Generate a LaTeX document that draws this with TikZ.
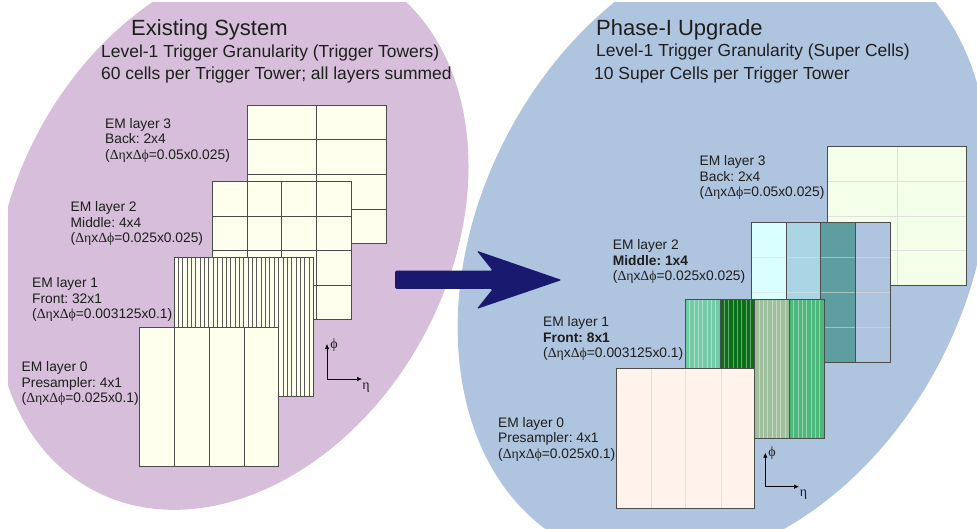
\documentclass[tikz,border=0pt]{standalone}
\usepackage{fontspec}
\setmainfont{Liberation Sans}
\newfontfamily\greekfont{Liberation Serif}
\usetikzlibrary{arrows.meta}
\definecolor{purplelobe}{HTML}{D7BEDA}
\definecolor{bluelobe}{HTML}{AFC4DF}
\definecolor{creamcell}{HTML}{FFFFEE}
\definecolor{palegreen}{HTML}{F4FFEA}
\definecolor{peachcell}{HTML}{FFF3EB}
\definecolor{navyarrow}{HTML}{191970}
\definecolor{textdark}{HTML}{1E1E1E}
\newcommand{\dede}{{\greekfont Δη}x{\greekfont Δϕ}}
\frenchspacing
\tikzset{
  titlelabel/.style={anchor=west,text=textdark,inner sep=0pt,font=\fontsize{22}{26}\selectfont},
  sublabel/.style={anchor=west,text=textdark,inner sep=0pt,font=\fontsize{17.45}{20}\selectfont},
  layerlabel/.style={anchor=west,align=left,text=textdark,inner sep=0pt,font=\fontsize{13.8}{15.5}\selectfont},
  axislabel/.style={text=textdark,inner sep=0pt,font=\fontsize{14}{15}\selectfont\greekfont},
  cellframe/.style={draw=black!70,line width=0.9pt},
  darkgrid/.style={draw=black!70,line width=0.8pt},
  lightgrid/.style={draw=black!12,line width=0.8pt},
  axisline/.style={draw=black,line width=0.7pt,-{Latex[length=5pt,width=4.5pt]}},
}
\begin{document}
\begin{tikzpicture}[x=1pt,y=-1pt]
\useasboundingbox (0,0) rectangle (977,529);
\begin{scope}
\clip (8,3) rectangle (977,528);

% Drawing left lobe
\fill [purplelobe,shift={(231.5,233)},rotate=61.4] (0,0) ellipse [x radius=292pt,y radius=218pt];

% Drawing right lobe
\fill [bluelobe,shift={(723.3,249)},rotate=62.5] (0,0) ellipse [x radius=332.8pt,y radius=244.3pt];
\end{scope}

% Drawing arrow
\fill [navyarrow,rounded corners=1.5pt] (395,270.7) -- (492.7,270.7) -- (476.7,250.7) -- (561.7,280) -- (476.7,309) -- (492.7,289) -- (395,289) -- cycle;

% Marking titles
\node [titlelabel] (existtitle) at (131,30) {Existing System};
\node [sublabel] (existgran) at (101,53) {Level-1 Trigger Granularity (Trigger Towers)};
\node [sublabel] (existcells) at (101,75) {60 cells per Trigger Tower; all layers summed};
\node [titlelabel] (phasetitle) at (596,30) {Phase-I Upgrade};
\node [sublabel] (phasegran) at (596,52) {Level-1 Trigger Granularity (Super Cells)};
\node [sublabel] (phasecells) at (594,75) {10 Super Cells per Trigger Tower};

% Drawing existing layer 3
\fill [creamcell] (247,105) rectangle (386,243);
\draw [darkgrid] (316.5,105) -- (316.5,243);
\draw [darkgrid] (247,139.5) -- (386,139.5);
\draw [darkgrid] (247,174) -- (386,174);
\draw [darkgrid] (247,209) -- (386,209);
\draw [cellframe] (247,105) rectangle (386,243);

% Drawing existing layer 2
\fill [creamcell] (212.5,181) rectangle (351.5,319.5);
\foreach \xcell in {247,281.5,316.5} {\draw [darkgrid] (\xcell,181) -- (\xcell,319.5);}
\foreach \ycell in {216,250,285} {\draw [darkgrid] (212.5,\ycell) -- (351.5,\ycell);}
\draw [cellframe] (212.5,181) rectangle (351.5,319.5);

% Drawing existing layer 1
\fill [creamcell] (174,257) rectangle (313.5,396.5);
\foreach \ncell in {1,...,31} {\draw [black!65,line width=0.9pt] ({174+\ncell*4.36},257) -- ({174+\ncell*4.36},396.5);}
\draw [cellframe] (174,257) rectangle (313.5,396.5);

% Drawing existing layer 0
\fill [creamcell] (139.5,327) rectangle (278.5,466);
\foreach \xcell in {174.5,209,244.5} {\draw [darkgrid] (\xcell,327) -- (\xcell,466);}
\draw [cellframe] (139.5,327) rectangle (278.5,466);

% Marking existing labels
\node [layerlabel] (existem3) at (105,140) {EM layer 3\\Back: 2x4\\(\dede=0.05x0.025)};
\node [layerlabel] (existem2) at (70.5,223.5) {EM layer 2\\Middle: 4x4\\(\dede=0.025x0.025)};
\node [layerlabel] (existem1) at (32,299.5) {EM layer 1\\Front: 32x1\\(\dede=0.003125x0.1)};
\node [layerlabel] (existem0) at (21.5,383.5) {EM layer 0\\Presampler: 4x1\\(\dede=0.025x0.1)};

% Drawing existing axes
\coordinate (existorigin) at (327,379);
\coordinate (existphi) at (327,344);
\coordinate (existeta) at (362,379);
\draw [axisline] (existorigin) -- (existphi);
\draw [axisline] (existorigin) -- (existeta);
\node [axislabel] (existphilabel) at (334,345) {ϕ};
\node [axislabel] (existetalabel) at (366,388) {η};

% Drawing upgrade layer 3
\fill [palegreen] (827.7,146) rectangle (966.7,285);
\draw [lightgrid] (897,146) -- (897,285);
\foreach \ycell in {181,216,250} {\draw [lightgrid] (827.7,\ycell) -- (966.7,\ycell);}
\draw [cellframe] (827.7,146) rectangle (966.7,285);

% Drawing upgrade layer 2
\fill [fill={rgb,255:red,217;green,255;blue,255}] (751.3,222.7) rectangle (786.7,362);
\fill [fill={rgb,255:red,169;green,213;blue,229}] (786.7,222.7) rectangle (820.7,362);
\fill [fill={rgb,255:red,95;green,158;blue,160}] (820.7,222.7) rectangle (855.7,362);
\fill [bluelobe] (855.7,222.7) rectangle (890.3,362);
\foreach \ycell in {257.7,292,327} {\draw [lightgrid,opacity=0.55] (751.3,\ycell) -- (890.3,\ycell);}
\foreach \xcell in {786.7,820.7,855.7} {\draw [cellframe] (\xcell,222.7) -- (\xcell,362);}
\draw [cellframe] (751.3,222.7) rectangle (890.3,362);

% Drawing upgrade layer 1
\fill [fill={rgb,255:red,115;green,203;blue,166}] (685.3,299.3) rectangle (720,438.3);
\fill [fill={rgb,255:red,11;green,110;blue,24}] (720,299.3) rectangle (754.7,438.3);
\fill [fill={rgb,255:red,157;green,191;blue,156}] (754.7,299.3) rectangle (789.5,438.3);
\fill [fill={rgb,255:red,77;green,184;blue,124}] (789.5,299.3) rectangle (824,438.3);
\foreach \ncell in {1,...,31} {\draw [white,opacity=0.4,line width=0.8pt] ({685.3+\ncell*4.335},299.3) -- ({685.3+\ncell*4.335},438.3);}
\foreach \xcell in {720,754.7,789.5} {\draw [cellframe] (\xcell,299.3) -- (\xcell,438.3);}
\draw [cellframe] (685.3,299.3) rectangle (824,438.3);

% Drawing upgrade layer 0
\fill [peachcell] (616,368.7) rectangle (754.7,508);
\foreach \xcell in {651.5,685.5,721} {\draw [lightgrid] (\xcell,368.7) -- (\xcell,508);}
\draw [cellframe] (616,368.7) rectangle (754.7,508);

% Marking upgrade labels
\node [layerlabel] (phaseem3) at (699.5,177.5) {EM layer 3\\Back: 2x4\\(\dede=0.05x0.025)};
\node [layerlabel] (phaseem2) at (612.7,261.5) {EM layer 2\\\textbf{Middle: 1x4}\\(\dede=0.025x0.025)};
\node [layerlabel] (phaseem1) at (543,338.5) {EM layer 1\\\textbf{Front: 8x1}\\(\dede=0.003125x0.1)};
\node [layerlabel] (phaseem0) at (498,439) {EM layer 0\\Presampler: 4x1\\(\dede=0.025x0.1)};

% Drawing upgrade axes
\coordinate (phaseorigin) at (765.3,486.7);
\coordinate (phasephi) at (765.3,452.7);
\coordinate (phaseeta) at (799,486.7);
\draw [axisline] (phaseorigin) -- (phasephi);
\draw [axisline] (phaseorigin) -- (phaseeta);
\node [axislabel] (phasephilabel) at (772,453) {ϕ};
\node [axislabel] (phaseetalabel) at (803.5,495) {η};
\end{tikzpicture}
\end{document}
